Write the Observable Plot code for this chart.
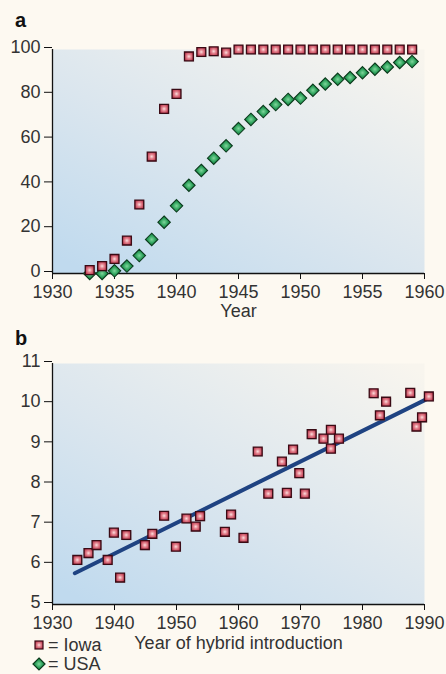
<!DOCTYPE html>
<html><head><meta charset="utf-8">
<script src="https://cdn.jsdelivr.net/npm/d3@7"></script>
<script src="https://cdn.jsdelivr.net/npm/@observablehq/plot@0.6"></script>
<style>
html,body{margin:0;padding:0;background:#fdf9f1;}
#wrap{position:relative;width:446px;height:674px;background:#fdf9f1;font-family:"Liberation Sans",Arial,sans-serif;overflow:hidden}
.panel{position:absolute;left:0}
.panel svg{overflow:visible}
.tag{position:absolute;font-weight:bold;font-size:20px;color:#111;line-height:1}
.leg{position:absolute;left:32px;font-size:18px;color:#333;line-height:14px;height:14px;display:flex;align-items:center}
.leg svg{margin-right:2px}
</style></head>
<body>
<div id="wrap">
  <div class="tag" style="left:15px;top:10px">a</div>
  <div class="panel" id="pa" style="top:0"></div>
  <div class="tag" style="left:15px;top:328px">b</div>
  <div class="panel" id="pb" style="top:320px"></div>
  <div class="leg" style="top:638px"><svg width="14" height="14"><rect x="3" y="3" width="8" height="8" fill="url(#sqL)" stroke="#3a0a14" stroke-width="1.2"/></svg>= Iowa</div>
  <div class="leg" style="top:657px"><svg width="14" height="14"><path d="M7,1L13,7L7,13L1,7Z" fill="url(#dmL)" stroke="#0b3a1c" stroke-width="1.2"/></svg>= USA</div>
</div>
<script>
// ---- Panel a: adoption (%) of hybrid corn ----
const adoptionYears = [1933,1934,1935,1936,1937,1938,1939,1940,1941,1942,1943,1944,1945,1946,1947,1948,1949,1950,1951,1952,1953,1954,1955,1956,1957,1958,1959];
const iowaAdoption = [1.5,3.3,6.5,14.7,30.8,52.2,73.5,80.2,96.9,98.9,99.2,98.6,100,100,100,100,100,100,100,100,100,100,100,100,100,100,100];
const usaAdoption  = [0,0,1.2,3.3,8,15.2,22.9,30.2,39.4,46,51.5,57,64.7,68.8,72.3,75.4,77.7,78.3,81.8,84.6,86.7,87.5,89.6,91.2,92.2,94.2,94.6];
const xTicksA = [1930,1935,1940,1945,1950,1955,1960];
const yTicksA = [0,20,40,60,80,100];

// ---- Panel b: yield vs year of hybrid introduction (Iowa) ----
const hybridYears  = [1934,1935.8,1937.1,1938.9,1939.9,1940.9,1941.9,1944.9,1946.1,1948,1949.9,1951.6,1953.1,1953.8,1957.8,1958.8,1960.8,1963.1,1964.8,1967,1967.8,1968.8,1969.8,1970.7,1971.8,1973.7,1974.9,1974.9,1976.2,1981.8,1982.8,1983.8,1987.7,1988.7,1989.6,1990.7];
const hybridYields = [6.11,6.28,6.48,6.11,6.79,5.67,6.73,6.48,6.76,7.21,6.44,7.14,6.94,7.20,6.81,7.24,6.66,8.81,7.76,8.56,7.78,8.86,8.27,7.76,9.24,9.13,9.35,8.88,9.13,10.26,9.71,10.05,10.27,9.43,9.66,10.18];
const trendYears  = [1933.6,1990.2];
const trendYields = [5.78,10.10];
const xTicksB = [1930,1940,1950,1960,1970,1980,1990];
const yTicksB = [5,6,7,8,9,10,11];

const adoption = adoptionYears.map((y,i)=>({year:y, iowa:iowaAdoption[i], usa:usaAdoption[i]}));
const hybrids = hybridYears.map((y,i)=>({year:y, yield:hybridYields[i]}));
const trend = trendYears.map((y,i)=>({year:y, yield:trendYields[i]}));

const defs = (s) => `
<linearGradient id="bg${s}" x1="0.1" y1="1" x2="0.95" y2="0">
  <stop offset="0" stop-color="#c0daee"/>
  <stop offset="0.45" stop-color="#dbe6ee"/>
  <stop offset="1" stop-color="#f8f5ee"/>
</linearGradient>
<radialGradient id="sq${s}" cx="0.5" cy="0.5" r="0.6">
  <stop offset="0" stop-color="#fcdede"/>
  <stop offset="0.4" stop-color="#e4848f"/>
  <stop offset="1" stop-color="#b52a42"/>
</radialGradient>
<radialGradient id="dm${s}" cx="0.5" cy="0.5" r="0.55">
  <stop offset="0" stop-color="#7fd69b"/>
  <stop offset="0.5" stop-color="#30a45e"/>
  <stop offset="1" stop-color="#127a3b"/>
</radialGradient>`;

const font = {fontSize:"18px", fontFamily:"'Liberation Sans', Arial, sans-serif", color:"#333", background:"transparent"};

function addDefs(svg, s){
  d3.select(svg).insert("defs", ":first-child").html(defs(s));
  return svg;
}

const pa = Plot.plot({
  width:446, height:320,
  marginLeft:52, marginRight:22, marginTop:49, marginBottom:47,
  style:font,
  x:{domain:[1930,1960]},
  y:{domain:[0,100]},
  marks:[
    Plot.frame({fill:"url(#bgA)", stroke:null}),
    Plot.axisX({ticks:xTicksA, tickFormat:d=>String(d), tickSize:6, tickPadding:6, label:null, stroke:"#111", fill:"#333", fontSize:18}),
    Plot.axisY({ticks:yTicksA, tickFormat:d=>String(d), tickSize:8, tickPadding:4, label:null, dy:-2, stroke:"#111", fill:"#333", fontSize:18}),
    Plot.ruleX([1930], {stroke:"#111", strokeWidth:1.3}),
    Plot.ruleY([0], {stroke:"#111", strokeWidth:1.3}),
    Plot.dot(adoption, {x:"year", y:"usa", symbol:"diamond2", r:5.6, fill:"url(#dmA)", stroke:"#0b3a1c", strokeWidth:1.1}),
    Plot.dot(adoption, {x:"year", y:"iowa", symbol:"square", r:5.1, dx:0.8, dy:0.8, fill:"#999", fillOpacity:0.45, stroke:null}),
    Plot.dot(adoption, {x:"year", y:"iowa", symbol:"square", r:5, fill:"url(#sqA)", stroke:"#3a0a14", strokeWidth:1.3}),
    Plot.text(["Year"], {frameAnchor:"bottom", dy:43, fontSize:18, fill:"#333"})
  ]
});
addDefs(pa, "A");
d3.select(pa).insert("defs", ":first-child").html(defs("L"));
document.getElementById("pa").appendChild(pa);

const pb = Plot.plot({
  width:446, height:330,
  marginLeft:52, marginRight:22, marginTop:43, marginBottom:46,
  style:font,
  x:{domain:[1930,1990]},
  y:{domain:[5,11]},
  marks:[
    Plot.frame({fill:"url(#bgB)", stroke:null}),
    Plot.axisX({ticks:xTicksB, tickFormat:d=>String(d), tickSize:6, tickPadding:6, label:null, stroke:"#111", fill:"#333", fontSize:18}),
    Plot.axisY({ticks:yTicksB, tickFormat:d=>String(d), tickSize:8, tickPadding:4, label:null, dy:-2, stroke:"#111", fill:"#333", fontSize:18}),
    Plot.ruleX([1930], {stroke:"#111", strokeWidth:1.3}),
    Plot.ruleY([5], {stroke:"#111", strokeWidth:1.3}),
    Plot.line(trend, {x:"year", y:"yield", stroke:"#1f4382", strokeWidth:4}),
    Plot.dot(hybrids, {x:"year", y:"yield", symbol:"square", r:5.1, dx:0.8, dy:0.8, fill:"#999", fillOpacity:0.45, stroke:null}),
    Plot.dot(hybrids, {x:"year", y:"yield", symbol:"square", r:5, fill:"url(#sqB)", stroke:"#3a0a14", strokeWidth:1.3}),
    Plot.text(["Year of hybrid introduction"], {frameAnchor:"bottom", dy:44, fontSize:18, fill:"#333"})
  ]
});
addDefs(pb, "B");
document.getElementById("pb").appendChild(pb);
</script>
</body></html>
